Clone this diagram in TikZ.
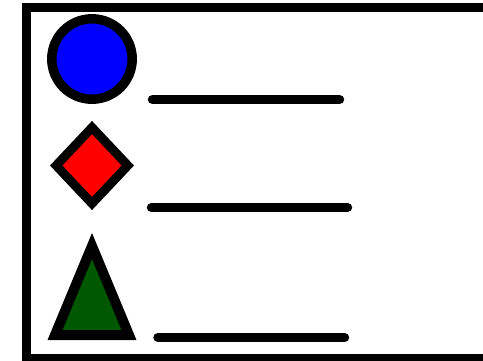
\documentclass[tikz,border=0pt]{standalone}
\definecolor{cblue}{RGB}{0,0,255}
\definecolor{cred}{RGB}{255,0,0}
\definecolor{cgreen}{RGB}{0,88,0}
\tikzset{
  frame/.style={line width=9pt},
  shapeline/.style={draw=black,line width=9.5pt},
  legendline/.style={line width=9.5pt,line cap=round}
}
\begin{document}
\begin{tikzpicture}[x=1pt,y=-1pt]
\useasboundingbox (0,0) rectangle (483,360);
\clip (0,0) rectangle (483,360);
\fill[white] (0,0) rectangle (483,360);
\draw[frame] (26.5,7) rectangle (495,358);
% circle
\draw[shapeline,fill=cblue] (92,59) circle (40.2);
% diamond
\draw[shapeline,line width=9pt,fill=cred] (92,127.5) -- (127.8,165.5) -- (92,203.5) -- (56.2,165.5) -- cycle;
% triangle
\draw[shapeline,line width=10pt,fill=cgreen] (92,246) -- (129,335) -- (55,335) -- cycle;
% lines
\coordinate (a1) at (152.5,99.5); \coordinate (b1) at (339.5,99.5);
\coordinate (a2) at (151.5,207.5); \coordinate (b2) at (347.5,207.5);
\coordinate (a3) at (158,337.5); \coordinate (b3) at (344.5,337.5);
\draw[legendline] (a1) -- (b1);
\draw[legendline] (a2) -- (b2);
\draw[legendline] (a3) -- (b3);
\end{tikzpicture}
\end{document}
